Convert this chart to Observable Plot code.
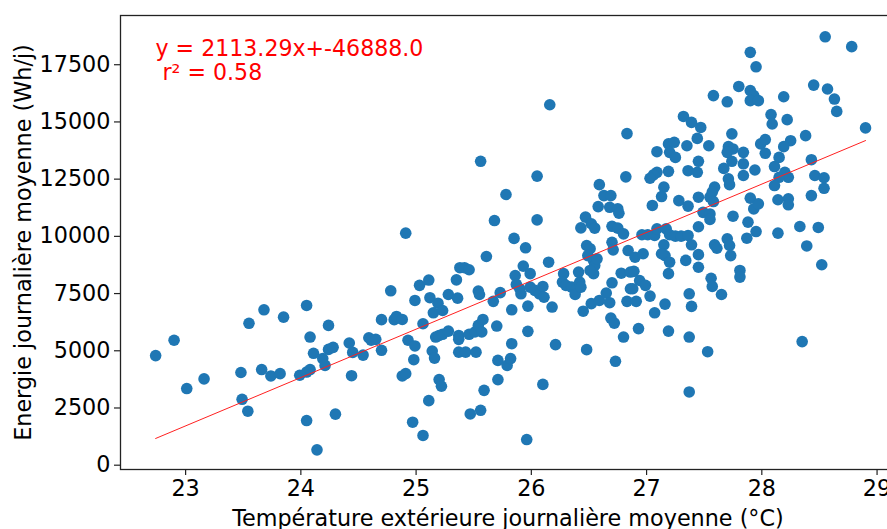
<!DOCTYPE html>
<html><head><meta charset="utf-8">
<script src="https://cdn.jsdelivr.net/npm/d3@7"></script>
<script src="https://cdn.jsdelivr.net/npm/@observablehq/plot@0.6"></script>
<style>html,body{margin:0;padding:0;background:#fff;overflow:hidden;} svg{max-width:none !important;}</style>
</head><body><div id="chart"></div>
<script>
// Température extérieure journalière moyenne (°C)
const temperature = [
22.74,22.90,23.01,23.16,23.55,23.68,23.85,23.48,23.49,23.54,23.66,23.74,23.82,24.05,24.08,24.24,24.11,23.99,24.05,24.08,
24.19,24.21,24.24,24.28,24.42,24.45,24.54,24.59,24.61,24.65,24.70,24.70,24.44,24.05,24.30,24.14,24.78,24.81,24.83,24.88,
24.99,25.03,25.11,25.12,25.19,25.15,25.23,25.06,24.93,24.99,24.98,25.14,25.16,24.88,24.91,25.20,25.22,25.11,24.97,25.06,
25.17,25.20,25.23,25.28,25.28,25.35,25.36,25.38,25.42,25.46,25.61,25.54,25.55,25.37,25.37,25.46,25.51,25.54,25.57,25.58,
25.37,25.43,25.52,25.67,25.73,25.70,25.83,25.83,25.71,25.79,25.82,25.71,25.59,25.47,25.56,25.85,25.95,25.93,25.86,25.99,
26.15,25.87,25.90,25.91,25.97,25.97,25.99,26.03,26.07,26.10,26.11,26.18,26.21,26.10,25.96,26.28,26.27,26.30,26.35,26.39,
26.42,26.41,26.38,26.43,26.48,26.51,26.49,26.54,26.55,26.57,26.54,26.51,26.70,26.71,26.45,26.52,26.59,26.48,26.65,26.70,
26.78,26.68,26.69,26.72,26.80,26.73,26.83,26.84,26.86,26.86,26.16,26.83,25.56,26.05,25.78,25.68,26.05,24.91,26.82,26.59,
26.63,26.69,26.58,26.68,26.75,26.76,26.47,26.52,26.55,26.43,26.70,26.75,26.80,27.90,27.95,27.80,27.90,27.93,27.90,27.97,
27.58,27.70,27.32,27.39,27.47,27.74,27.44,27.54,27.19,27.24,27.35,27.09,27.20,27.25,27.71,27.75,27.70,27.74,27.84,27.84,
27.45,27.99,27.67,27.36,27.44,27.19,27.09,27.06,27.03,27.84,27.71,27.72,27.15,27.13,27.59,27.57,27.55,27.45,27.28,27.05,
27.36,27.90,27.93,27.97,27.58,27.49,27.55,27.55,27.75,27.88,27.45,27.95,26.96,27.01,27.07,27.09,27.17,27.20,27.25,27.30,
27.36,27.15,27.39,27.70,27.87,27.59,26.90,26.97,27.16,27.20,27.13,27.45,27.34,27.45,27.61,27.72,27.73,27.81,27.81,26.89,
27.19,26.94,26.99,26.88,27.03,26.91,27.16,27.07,27.37,27.39,27.56,27.57,27.65,26.93,27.19,27.37,27.53,27.37,28.55,28.78,
28.45,28.57,28.63,28.65,28.19,28.08,28.09,28.22,28.90,28.38,28.03,28.25,28.19,28.03,28.15,28.43,28.11,27.94,28.20,28.23,
28.15,28.46,28.54,28.11,28.54,28.43,28.14,28.23,28.23,28.33,28.49,28.14,28.39,28.52,28.35
];
// Energie journalière moyenne (Wh/j)
const energy = [
4790,5460,3350,3770,6200,6790,6470,4050,2880,2360,4180,3900,4000,6980,5600,6110,4890,3930,4070,4180,
4660,4360,5060,5150,5340,4930,4810,5570,5460,5500,6360,5020,3910,1950,2230,670,7620,6360,6500,6370,
7200,7860,8090,7320,7080,6660,6760,6180,5460,5210,4610,4990,4680,3900,4000,3740,3450,2820,1880,1300,
5600,5670,5720,5860,7460,8100,7300,8630,8630,8540,9120,7610,7460,5670,5500,5720,5820,6110,5820,6370,
4940,4940,4940,7160,7540,6080,5310,6790,4580,4360,4660,3740,3270,2240,2400,9910,9500,8700,8290,8370,
8870,7900,7710,7490,6950,5850,7780,7640,7490,7810,7340,6910,5270,3530,1120,8370,8000,7860,7780,7680,
8000,8440,7460,7780,9600,9460,9160,8950,8730,9020,8370,8510,9740,9410,6730,7060,7200,5050,7520,7970,
8390,7100,6430,6210,5600,4540,7160,9380,8440,7710,15750,14490,13280,12630,11830,10690,10720,10140,12600,12260,
11780,11780,11300,11270,11200,11010,10840,10550,10360,10370,10440,10360,10110,18040,17410,16550,16370,16150,15930,15930,
16150,15880,15240,14980,14760,14480,14280,13960,14040,14110,13960,13700,13670,13450,13920,13820,13670,13280,13670,13170,
13280,14040,12970,12870,12800,12840,12800,12690,12540,12660,12510,12260,12150,11740,12150,11930,11710,11710,11560,11350,
11320,11670,11200,11420,11520,11050,10980,10740,10880,10620,10420,10210,10070,10070,10040,10330,10330,10070,10010,10010,
10040,9630,9630,9890,9920,9630,9090,9240,9160,8870,9240,9200,8950,8650,9480,9600,9160,8510,8220,8470,
8370,8070,7860,7710,7390,7160,7040,6660,7490,6940,8170,7810,7460,5970,5860,5600,4960,3200,18720,18290,
16610,16440,16000,15460,16100,15320,14910,15100,14740,14400,14230,14180,13920,13630,13450,13350,13050,12900,12800,12580,
12580,12660,12560,12220,12100,11780,11600,11640,11380,10430,10390,10140,9580,8760,5400
];
const xTicks = [23, 24, 25, 26, 27, 28, 29];
const yTicks = [0, 2500, 5000, 7500, 10000, 12500, 15000, 17500];
const slope = 2113.29;
const intercept = -46888.0;
const r2 = 0.58;
const xLabel = "Température extérieure journalière moyenne (°C)";
const yLabel = "Energie journalière moyenne (Wh/j)";

const points = temperature.map((t, i) => ({t, e: energy[i]}));
const fit = d3.extent(temperature).map(t => ({t, e: slope * t + intercept}));
const eq1 = `y = ${slope.toFixed(2)}x+${intercept.toFixed(1)}`;
const eq2 = ` r² = ${r2.toFixed(2)}`;
const FS = 22.3;

const chart = Plot.plot({
  width: 900, height: 529,
  marginLeft: 120, marginRight: 5, marginTop: 15, marginBottom: 60,
  style: {fontFamily: "DejaVu Sans", fontSize: FS + "px", background: "#fff", color: "#000", maxWidth: "none"},
  x: {domain: [22.435, 29.16]},
  y: {domain: [-188, 19651]},
  marks: [
    Plot.dot(points, {x: "t", y: "e", r: 5.8, fill: "#1f77b4", stroke: null}),
    Plot.line(fit, {x: "t", y: "e", stroke: "#ff2020", strokeWidth: 1}),
    Plot.frame({stroke: "#222", strokeWidth: 1.3}),
    Plot.axisX(xTicks, {tickSize: 6, tickPadding: 5, fontSize: FS, label: null, tickFormat: d => String(d), stroke: "#222", strokeWidth: 1.2}),
    Plot.axisY(yTicks, {tickSize: 6, tickPadding: 4, fontSize: FS, label: null, tickFormat: d => String(d), stroke: "#222", strokeWidth: 1.2}),
    Plot.text([xLabel], {text: d => d, frameAnchor: "bottom", dy: 41, lineAnchor: "top", textAnchor: "middle", fontSize: FS, fill: "#000"}),
    Plot.text([yLabel], {text: d => d, frameAnchor: "left", dx: -90, rotate: -90, lineAnchor: "bottom", textAnchor: "middle", fontSize: FS, fill: "#000"}),
    Plot.text([eq1], {text: d => d, frameAnchor: "top-left", dx: 35, dy: 40, lineAnchor: "bottom", textAnchor: "start", fontSize: 22.1, fill: "red"}),
    Plot.text([eq2], {text: d => d, frameAnchor: "top-left", dx: 35, dy: 64, lineAnchor: "bottom", textAnchor: "start", fontSize: 22.1, fill: "red"})
  ]
});
document.getElementById("chart").appendChild(chart);
</script>
</body></html>
